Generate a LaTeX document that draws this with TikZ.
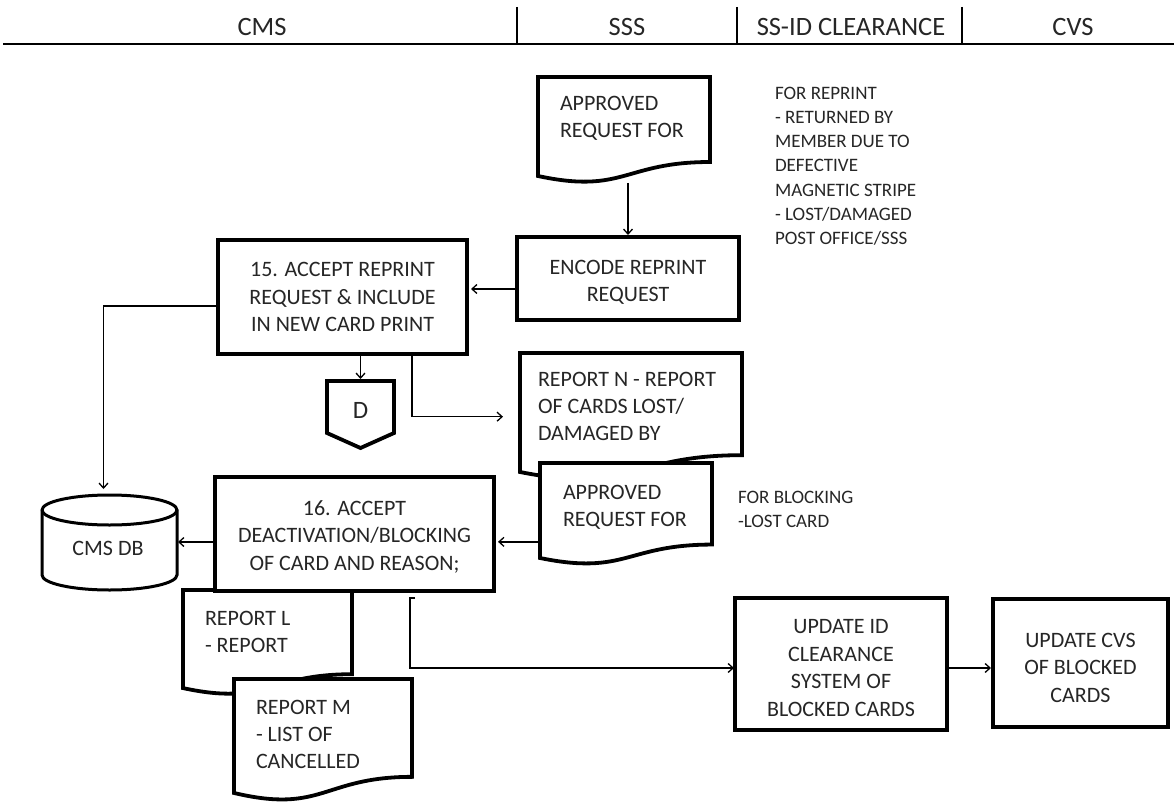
\documentclass[tikz,border=0pt]{standalone}
\usepackage{fontspec}
\setmainfont{Carlito}
\usetikzlibrary{arrows.meta,calc}
\newcommand{\mkdoc}[5]{%
  \node[minimum width={(#3-#2)*1pt}, minimum height={#5*1pt}] (#1) at ({(#2+#3)/2},{#4+#5/2}) {};
  \draw[docline] (#2,#4) -- (#3,#4) -- (#3,{#4+0.802*#5})
    .. controls ({(#2+#3)/2},{#4+0.802*#5}) and ({(#2+#3)/2},{#4+1.1075*#5}) .. (#2,{#4+0.934*#5}) -- cycle;
}
\begin{document}
\begin{tikzpicture}[x=1pt,y=-1pt,
  every node/.style={inner sep=0pt, outer sep=0pt, text=black!85},
  boxn/.style={draw=black, line width=3.8pt, fill=white, align=center, font=\fontsize{22}{27.5}\selectfont},
  doctext/.style={align=left, anchor=north west, font=\fontsize{22}{27}\selectfont},
  note/.style={align=left, anchor=north west, font=\fontsize{19}{24.2}\selectfont},
  head/.style={font=\fontsize{26.5}{30}\selectfont},
  docline/.style={draw=black, line width=3.8pt, fill=white, line join=miter},
  dbline/.style={draw=black, line width=3pt, fill=white},
  conn/.style={draw=black, line width=1.3pt, -{Straight Barb[length=5pt,width=9pt,line width=1.3pt]}},
]
\useasboundingbox (0,0) rectangle (1174,802);

% header
\node[head] (hcms) at (262,27) {CMS};
\node[head] (hsss) at (627,27) {SSS};
\node[head] (hssid) at (851,27) {SS-ID CLEARANCE};
\node[head] (hcvs) at (1073,27) {CVS};
\draw[line width=2pt] (3,44) -- (1174,44);
\draw[line width=1.4pt] (517,7) -- (517,44);
\draw[line width=1.4pt] (737,7) -- (737,44);
\draw[line width=1.4pt] (962,7) -- (962,44);

% documents
\mkdoc{doc1}{538}{710}{77}{106}
\node[doctext] (doc1t) at (560,96) {APPROVED\\REQUEST FOR};
\mkdoc{repN}{520}{742}{353}{127.4}
\node[doctext] (repNt) at (538,372) {REPORT N - REPORT\\OF CARDS LOST/\\DAMAGED BY};
\mkdoc{doc2}{540}{712}{463}{101.7}
\node[doctext] (doc2t) at (563,485) {APPROVED\\REQUEST FOR};
\mkdoc{repL}{183}{352}{590}{105}
\node[doctext] (repLt) at (205,611) {REPORT L\\- REPORT};
\mkdoc{repM}{234}{412}{679}{122}
\node[doctext] (repMt) at (256,700) {REPORT M\\- LIST OF\\CANCELLED};

% notes
\node[note] (note1) at (775,87) {FOR REPRINT\\- RETURNED BY\\MEMBER DUE TO\\DEFECTIVE\\MAGNETIC STRIPE\\- LOST/DAMAGED\\POST OFFICE/SSS};
\node[note] (note2) at (738,491) {FOR BLOCKING\\-LOST CARD};

% process boxes
\node[boxn, minimum width=249pt, minimum height=114pt] (box15) at (342.5,297) {\rule{0pt}{3pt}15. ACCEPT REPRINT\\REQUEST \& INCLUDE\\IN NEW CARD PRINT};
\node[boxn, minimum width=222pt, minimum height=83pt] (encode) at (628,278.5) {\rule{0pt}{22pt}ENCODE REPRINT\\REQUEST};
\node[boxn, minimum width=279pt, minimum height=114pt] (box16) at (354.5,534) {\rule{0pt}{20pt}16. ACCEPT\\DEACTIVATION/BLOCKING\\OF CARD AND REASON;};
\node[boxn, minimum width=212pt, minimum height=132pt] (updid) at (841,664) {\rule{0pt}{22pt}UPDATE ID\\CLEARANCE\\SYSTEM OF\\BLOCKED CARDS};
\node[boxn, minimum width=175pt, minimum height=128pt] (updcvs) at (1080.5,663) {\rule{0pt}{24pt}UPDATE CVS\\OF BLOCKED\\CARDS};

% off-page connector D
\node[minimum width=67pt, minimum height=67pt] (dconn) at (360.5,414.5) {};
\draw[docline] (327,381) -- (394,381) -- (394,433) -- (360.5,448) -- (327,433) -- cycle;
\node[font=\fontsize{25}{28}\selectfont] (dlabel) at (360.5,410) {D};

% database
\node[minimum width=135pt, minimum height=95pt] (db) at (109.5,542.5) {};
\draw[dbline] (42,510) -- (42,575) arc[start angle=180, end angle=360, x radius=67.5pt, y radius=15pt]
  -- (177,510) arc[start angle=0, end angle=180, x radius=67.5pt, y radius=15pt] -- cycle;
\draw[dbline, fill=none] (42,510) arc[start angle=180, end angle=360, x radius=67.5pt, y radius=15pt];
\node[font=\fontsize{22}{27}\selectfont] (dblabel) at (108,548) {CMS DB};

% connectors
\draw[conn, shorten >=2pt] (doc1.south -| encode.north) -- (encode.north);
\draw[conn, shorten >=4pt] ([yshift=-10.5pt]encode.west) -- ([yshift=-10.5pt]encode.west -| box15.east);
\draw[conn, shorten >=6pt] ([yshift=-9pt]box15.west) -| ([xshift=-6pt]db.north);
\draw[conn, shorten >=2pt] (box15.south -| dconn.north) -- (dconn.north);
\draw[conn, shorten >=17pt] ([xshift=69.5pt]box15.south) |- (repN.west);
\draw[conn, shorten >=4pt] ([yshift=-28pt]doc2.west) -- ([yshift=-28pt]doc2.west -| box16.east);
\draw[conn, shorten >=1pt] ([yshift=-8pt]box16.west) -- ([yshift=-8pt]box16.west -| db.east);
\draw[conn, shorten >=1pt] ([xshift=60.5pt,yshift=-7pt]box16.south) -- ++(-5,0) |- ([yshift=-4pt]updid.west);
\draw[conn, shorten >=2pt] ([yshift=-4pt]updid.east) -- ([yshift=-4pt]updid.east -| updcvs.west);
\end{tikzpicture}
\end{document}
